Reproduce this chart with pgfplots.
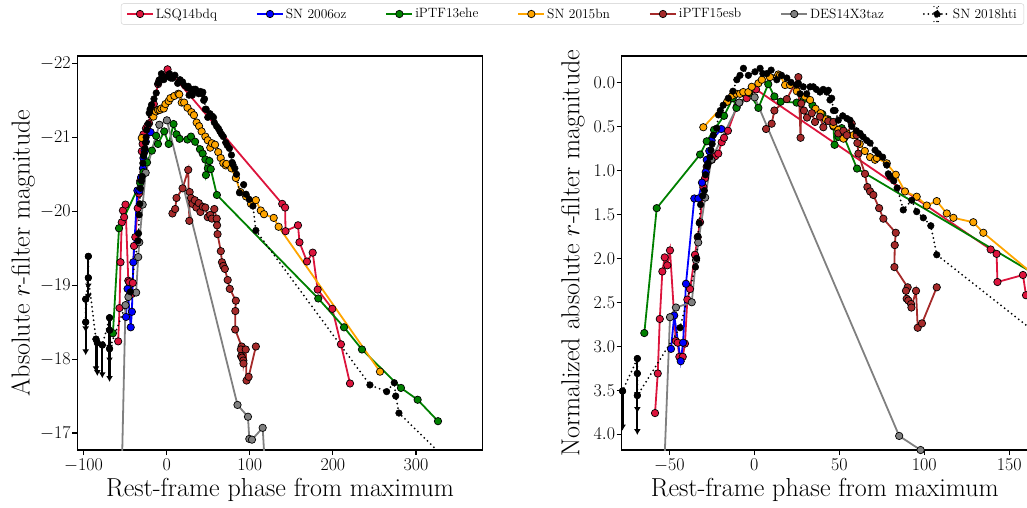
\RequirePackage{fix-cm}
\documentclass[border=0pt]{standalone}
\usepackage{pgfplots}
\usepackage{pgfplotstable}
\pgfplotsset{compat=1.18}
\usetikzlibrary{arrows.meta}

\definecolor{crimson}{RGB}{220,20,60}
\definecolor{mplblue}{RGB}{0,0,255}
\definecolor{mplgreen}{RGB}{0,128,0}
\definecolor{mplorange}{RGB}{255,165,0}
\definecolor{mplbrown}{RGB}{165,42,42}
\definecolor{mplgray}{RGB}{128,128,128}

% LSQ14bdq
\pgfplotstableread{
x m
-58.4 -18.24
-56.8 -18.69
-55.6 -19.31
-54.1 -19.85
-52.7 -20.01
-51.2 -19.92
-49.6 -20.09
-46.2 -19.06
-45.1 -19.04
-44.1 -18.88
-42.1 -18.88
-40.8 -19.03
-39.4 -19.53
-37.8 -19.65
-34.9 -20.04
-33.3 -20.24
-31.9 -20.41
-30.0 -20.81
-29.0 -20.91
-28.0 -21.04
-25.0 -21.12
-23.0 -21.16
-21.2 -21.19
-19.2 -21.32
-17.8 -21.37
-15.5 -21.45
-10.4 -21.72
-8.8 -21.77
-4.5 -21.82
1.0 -21.92
139.0 -20.10
142.5 -20.05
143.0 -19.73
158.0 -19.81
159.8 -19.58
168.8 -19.32
175.7 -19.44
181.7 -18.94
199.3 -18.68
209.7 -18.20
220.6 -17.67
}\tRed

% SN 2006oz
\pgfplotstableread{
x m
-49.0 -18.57
-47.1 -18.95
-43.3 -18.43
-41.9 -18.64
-40.2 -19.31
-35.3 -20.28
-32.9 -20.28
-30.8 -20.46
-28.6 -20.58
-28.0 -20.72
-26.5 -20.82
-25.1 -20.94
-19.4 -21.07
}\tBlue

% iPTF13ehe
\pgfplotstableread{
x m
-64.7 -18.35
-57.4 -19.77
-31.9 -20.38
-28.0 -20.53
-23.7 -20.66
-17.8 -20.82
-12.7 -21.02
-10.5 -20.91
-3.0 -21.08
2.4 -20.91
8.2 -21.18
11.8 -21.04
15.5 -20.98
24.9 -20.97
29.2 -21.01
34.2 -20.94
40.0 -20.84
43.3 -20.78
46.5 -20.70
47.2 -20.49
49.5 -20.58
51.4 -20.68
53.0 -20.57
60.4 -20.22
182.4 -18.82
213.4 -18.43
235.0 -18.13
281.9 -17.61
302.0 -17.45
326.5 -17.16
}\tGreen

% SN 2015bn
\pgfplotstableread{
x m
-30.0 -20.99
-16.0 -21.28
-13.0 -21.35
-10.4 -21.37
-8.4 -21.37
-6.5 -21.39
-3.5 -21.39
-1.5 -21.45
2.4 -21.49
4.4 -21.53
9.2 -21.56
14.1 -21.59
15.1 -21.58
18.1 -21.47
21.0 -21.47
25.0 -21.40
29.8 -21.34
32.8 -21.30
36.0 -21.20
39.0 -21.15
42.0 -21.08
46.5 -21.01
49.4 -20.96
52.4 -20.86
54.4 -20.92
58.2 -20.90
62.0 -20.80
65.0 -20.72
68.1 -20.65
71.0 -20.62
72.0 -20.64
77.9 -20.58
83.2 -20.45
88.6 -20.26
95.5 -20.20
101.4 -20.10
107.3 -20.15
113.2 -20.01
117.1 -19.96
128.8 -19.91
134.7 -19.79
256.7 -17.83
}\tOrange

% iPTF15esb
\pgfplotstableread{
x m
6.9 -19.97
10.2 -20.03
11.8 -20.18
19.1 -20.31
25.9 -20.56
27.2 -19.87
27.6 -20.26
29.2 -20.18
31.0 -20.10
33.8 -20.15
35.7 -20.05
38.6 -20.11
40.6 -19.99
43.5 -20.06
46.5 -20.05
49.4 -19.92
52.4 -19.95
54.4 -19.90
57.3 -20.03
60.2 -19.90
60.6 -19.81
61.2 -19.69
65.1 -19.46
66.5 -19.31
68.1 -19.26
70.0 -19.22
73.4 -19.07
75.9 -18.95
83.2 -18.79
82.6 -18.65
82.4 -18.40
90.2 -18.17
89.2 -18.13
89.6 -18.04
90.6 -18.02
92.2 -17.98
92.4 -17.94
95.1 -18.13
96.1 -17.71
98.6 -17.76
107.3 -18.17
}\tBrown

% DES14X3taz
\pgfplotstableread{
x m
-55.0 -16.00
-49.6 -18.73
-46.1 -18.84
-36.8 -18.90
-34.3 -19.38
-33.0 -19.58
-28.9 -20.09
-25.3 -20.52
-8.9 -21.17
0.2 -21.23
85.2 -17.38
97.8 -17.22
99.4 -16.92
102.6 -16.91
115.5 -17.07
119.5 -16.30
}\tGray

% SN 2018hti
\pgfplotstableread{
x m
-97.5 -18.81
-97.5 -18.50
-94.3 -19.39
-94.3 -19.10
-85.1 -18.27
-83.5 -18.22
-77.5 -18.19
-68.8 -18.56
-68.8 -18.39
-68.8 -18.14
-43.7 -18.91
-34.6 -19.60
-33.9 -19.70
-33.2 -19.95
-32.4 -20.10
-31.6 -20.31
-30.4 -20.41
-29.4 -20.47
-28.7 -20.65
-27.8 -20.75
-27.1 -20.78
-26.1 -20.85
-25.5 -20.93
-24.8 -21.00
-24.1 -21.10
-22.1 -21.18
-21.1 -21.33
-20.0 -21.38
-18.3 -21.44
-15.3 -21.52
-12.6 -21.60
-10.3 -21.73
-8.4 -21.78
-6.4 -21.86
-3.5 -21.78
0.4 -21.82
3.4 -21.86
5.0 -21.80
7.3 -21.80
9.9 -21.84
13.2 -21.73
16.0 -21.78
19.1 -21.75
21.6 -21.70
24.9 -21.67
25.9 -21.69
26.9 -21.57
28.8 -21.65
30.8 -21.57
32.8 -21.65
34.7 -21.65
36.5 -21.62
38.6 -21.59
40.5 -21.62
42.6 -21.59
43.5 -21.61
44.5 -21.50
45.5 -21.52
46.5 -21.38
47.5 -21.38
49.4 -21.27
52.0 -21.32
54.4 -21.29
56.3 -21.27
57.3 -21.20
60.0 -21.15
62.2 -21.12
64.0 -21.08
66.1 -21.04
68.1 -21.01
71.0 -20.93
72.9 -20.89
75.5 -20.85
77.9 -20.76
78.8 -20.66
79.8 -20.63
82.0 -20.58
84.0 -20.50
87.6 -20.25
92.6 -20.36
95.5 -20.23
99.4 -20.16
103.8 -20.07
107.3 -19.74
244.6 -17.65
264.7 -17.56
273.9 -17.68
275.6 -17.50
279.5 -17.27
345.0 -16.55
}\tBlack

% SN 2018hti upper limits
\pgfplotstableread{
x m e
-97.5 -18.81 0.45
-97.5 -18.50 0.45
-94.3 -19.39 0.45
-94.3 -19.10 0.30
-85.1 -18.27 0.45
-83.5 -18.22 0.45
-77.5 -18.19 0.45
-68.8 -18.56 0.45
-68.8 -18.39 0.45
-68.8 -18.14 0.45
}\tUL

\pgfplotsset{
  sn/.style={line width=1.8pt, color=#1, mark=*, mark size=3.7pt,
    mark options={solid, fill=#1, draw=black, line width=0.7pt}},
  blk/.style={black, line width=2pt, dash pattern=on 0pt off 4.5pt, line cap=round,
    mark=*, mark size=3.3pt, mark options={solid, fill=black, draw=black, line width=0.5pt}},
  ulbars/.style={only marks, mark=*, mark size=3.3pt, black, forget plot,
    error bars/.cd, y dir=plus, y explicit, error mark=none,
    error bar style={solid, line width=2.2pt, black, -{Latex[length=6pt,width=7pt]}}},
  common/.style={scale only axis, height=394pt, y dir=reverse, anchor=south west,
    tick align=outside, major tick length=5pt, tick pos=left,
    axis line style={line width=1.1pt}, every tick/.style={black, line width=1.1pt},
    tick label style={font=\fontsize{18}{18}\selectfont},
    xticklabel style={inner ysep=3.5pt},
    yticklabel style={inner xsep=1.5pt},
    label style={font=\fontsize{26}{30}\selectfont},
    xlabel={Rest-frame phase from maximum},
    xlabel style={at={(axis description cs:0.5,-0.1015)}, anchor=center}},
}

\begin{document}
\begin{tikzpicture}
\begin{axis}[common, at={(77.3pt,57pt)}, width=405.4pt,
  xmin=-107.6, xmax=380.3, ymin=-22.10, ymax=-16.77,
  xtick={-100,0,100,200,300}, ytick={-22,-21,-20,-19,-18,-17},
  ylabel={Absolute $r$-filter magnitude},
  ylabel style={at={(axis description cs:-0.134,0.5)}, anchor=center},
  legend columns=7,
  legend image code/.code={\draw[mark repeat=2,mark phase=2,#1] plot coordinates {(0pt,0pt) (13pt,0pt) (26pt,0pt)};},
  legend style={at={(axis description cs:1.2215,1.1066)}, anchor=center,
    draw=black!20, rounded corners=2.5pt, fill=white, inner xsep=5pt, inner ysep=2pt,
    font=\fontsize{13.5}{15}\selectfont,
    /tikz/every even column/.append style={column sep=37pt}},
]
\addplot[sn=crimson] table[x=x,y=m]{\tRed}; \addlegendentry{LSQ14bdq}
\addplot[sn=mplblue] table[x=x,y=m]{\tBlue}; \addlegendentry{SN 2006oz}
\addplot[sn=mplgreen] table[x=x,y=m]{\tGreen}; \addlegendentry{iPTF13ehe}
\addplot[sn=mplorange] table[x=x,y=m]{\tOrange}; \addlegendentry{SN 2015bn}
\addplot[sn=mplbrown] table[x=x,y=m]{\tBrown}; \addlegendentry{iPTF15esb}
\addplot[sn=mplgray] table[x=x,y=m]{\tGray}; \addlegendentry{DES14X3taz}
\addplot[ulbars] table[x=x,y=m,y error=e]{\tUL};
\addplot[blk, legend image code/.code={
   \draw[black, line width=2pt, dash pattern=on 0pt off 4.5pt, line cap=round] (0pt,0pt) -- (26pt,0pt);
   \draw[black, line width=1.8pt] (13pt,-7.5pt) -- (13pt,7.5pt);
   \draw[black, line width=1.4pt] (10pt,-7.5pt) -- (16pt,-7.5pt) (10pt,7.5pt) -- (16pt,7.5pt);
   \fill[black] (13pt,0pt) circle (3.3pt);}] table[x=x,y=m]{\tBlack};
\addlegendentry{SN 2018hti}
\end{axis}

\begin{axis}[common, at={(621.7pt,57pt)}, width=406pt,
  xmin=-78, xmax=160.8, ymin=-0.30, ymax=4.18,
  xtick={-50,0,50,100,150}, ytick={0,0.5,1,1.5,2,2.5,3,3.5,4},
  yticklabel style={/pgf/number format/.cd, fixed, fixed zerofill, precision=1},
  ylabel={Normalized absolute $r$-filter magnitude},
  ylabel style={at={(axis description cs:-0.120,0.5)}, anchor=center},
]
\addplot[sn=crimson] table[x=x,y expr=\thisrow{m}+22.0]{\tRed};
\addplot[sn=mplblue] table[x=x,y expr=\thisrow{m}+21.6]{\tBlue};
\addplot[sn=mplgreen] table[x=x,y expr=\thisrow{m}+21.2]{\tGreen};
\addplot[sn=mplorange] table[x=x,y expr=\thisrow{m}+21.5]{\tOrange};
\addplot[sn=mplbrown] table[x=x,y expr=\thisrow{m}+20.5]{\tBrown};
\addplot[sn=mplgray] table[x=x,y expr=\thisrow{m}+21.4]{\tGray};
\addplot[ulbars] table[x=x,y expr=\thisrow{m}+21.7,y error=e]{\tUL};
\addplot[blk] table[x=x,y expr=\thisrow{m}+21.7]{\tBlack};
\end{axis}
\pgfresetboundingbox
\useasboundingbox (0pt,0pt) rectangle (1027pt,507pt);
\end{tikzpicture}
\end{document}
